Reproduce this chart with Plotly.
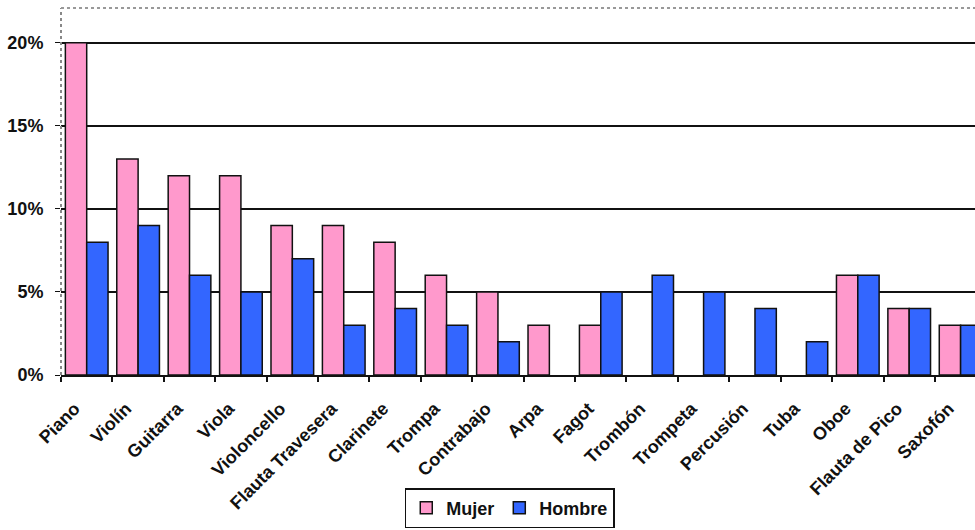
import plotly.graph_objects as go

categories = ["Piano", "Violín", "Guitarra", "Viola", "Violoncello", "Flauta Travesera",
              "Clarinete", "Trompa", "Contrabajo", "Arpa", "Fagot", "Trombón", "Trompeta",
              "Percusión", "Tuba", "Oboe", "Flauta de Pico", "Saxofón"]
mujer = [20, 13, 12, 12, 9, 9, 8, 6, 5, 3, 3, 0, 0, 0, 0, 6, 4, 3]
hombre = [8, 9, 6, 5, 7, 3, 4, 3, 2, 0, 5, 6, 5, 4, 2, 6, 4, 3]
y_ticks = [0, 5, 10, 15, 20]
y_tick_labels = ["0%", "5%", "10%", "15%", "20%"]

FONT = "Liberation Sans, Arial, sans-serif"


def outline_widths(values):
    # no visible outline for empty bars
    return [1.5 if v > 0 else 0 for v in values]


fig = go.Figure()
fig.add_trace(go.Bar(x=categories, y=mujer, name="Mujer",
                     marker=dict(color="#FF99CC",
                                 line=dict(color="#111111", width=outline_widths(mujer)))))
fig.add_trace(go.Bar(x=categories, y=hombre, name="Hombre",
                     marker=dict(color="#3366FF",
                                 line=dict(color="#111111", width=outline_widths(hombre)))))

fig.update_layout(
    width=975, height=530,
    margin=dict(l=61, r=0, t=8, b=155, autoexpand=False),
    paper_bgcolor="white", plot_bgcolor="white",
    barmode="group", bargap=0.17, bargroupgap=0,
    font=dict(family=FONT, color="#111111"),
    showlegend=True,
    legend=dict(orientation="h", x=0.491, xanchor="center", y=-0.308, yanchor="top",
                bordercolor="#111111", borderwidth=1.5,
                font=dict(family=FONT, size=18, weight=700, color="#111111"),
                itemwidth=30, tracegroupgap=0),
    xaxis=dict(type="category", range=[-0.5, 17.28], tickson="boundaries", automargin=False,
               ticks="outside", ticklen=5, tickcolor="#111111", tickwidth=1.5,
               tickangle=-45, ticklabelstandoff=14, ticklabelshift=-12,
               tickfont=dict(family=FONT, size=18, weight=700, color="#111111"),
               showline=True, linecolor="#111111", linewidth=2, showgrid=False,
               fixedrange=True),
    yaxis=dict(range=[0, 22.1], tickvals=y_ticks, ticktext=y_tick_labels, automargin=False,
               ticks="outside", ticklen=5, tickcolor="#111111", ticklabelstandoff=8,
               tickfont=dict(family=FONT, size=18, weight=700, color="#111111"),
               showgrid=True, gridcolor="#111111", gridwidth=1.6,
               zeroline=False, showline=False),
)

# dotted plot-area borders (left and top)
fig.add_shape(type="line", xref="paper", yref="paper", x0=0, x1=0, y0=0, y1=1,
              line=dict(color="#888888", width=2, dash="dot"))
fig.add_shape(type="line", xref="paper", yref="paper", x0=0, x1=1, y0=1, y1=1,
              line=dict(color="#999999", width=2, dash="dot"))

fig.write_html("out.html")
